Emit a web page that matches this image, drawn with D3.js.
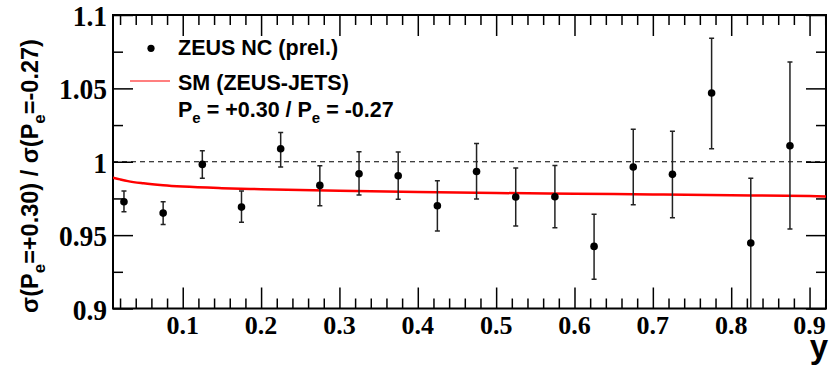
<html>
<head>
    <meta charset="UTF-8">
    <title>ZEUS NC polarised cross-section ratio</title>
    <style>
        body { margin: 0; background: #fff; }
    </style>
</head>
<body>
<script src="https://d3js.org/d3.v7.min.js"></script>

<div id="svg_chart"></div>

<script>
    // Bin centres in y
    var yCentres = [0.025, 0.075, 0.125, 0.175, 0.225, 0.275, 0.325, 0.375, 0.425,
                    0.475, 0.525, 0.575, 0.625, 0.675, 0.725, 0.775, 0.825, 0.875];
    // Measured ratio (ZEUS NC prel.)
    var ratioValues = [0.9727, 0.9650, 0.9982, 0.9691, 1.0089, 0.9839, 0.9918, 0.9905, 0.9700,
                       0.9934, 0.9760, 0.9761, 0.9423, 0.9964, 0.9914, 1.0468, 0.9446, 1.0109];
    // Upper / lower end of the error bars
    var errHigh = [0.9800, 0.9727, 1.0075, 0.9800, 1.0200, 0.9973, 1.0068, 1.0066, 0.9870,
                   1.0125, 0.9957, 0.9975, 0.9643, 1.0221, 1.0207, 1.0841, 0.9887, 1.0680];
    var errLow  = [0.9660, 0.9573, 0.9887, 0.9587, 0.9964, 0.9700, 0.9773, 0.9744, 0.9528,
                   0.9746, 0.9562, 0.9550, 0.9200, 0.9707, 0.9618, 1.0089, 0.8950, 0.9541];

    // SM prediction (ZEUS-JETS)
    var smY     = [0.011, 0.02, 0.03, 0.05, 0.075, 0.1, 0.15, 0.2, 0.3, 0.4, 0.5, 0.6, 0.7, 0.8, 0.9, 0.921];
    var smRatio = [0.9892, 0.9880, 0.9868, 0.9853, 0.9840, 0.9831, 0.9820, 0.9813, 0.9802,
                   0.9794, 0.9787, 0.9782, 0.9777, 0.9772, 0.9766, 0.9764];

    // Tick labels
    var xTickLabels = [0.1, 0.2, 0.3, 0.4, 0.5, 0.6, 0.7, 0.8, 0.9];
    var yTickLabels = [0.9, 0.95, 1, 1.05, 1.1];

    var data = yCentres.map(function(d, i) {
        return {x: d, v: ratioValues[i], hi: errHigh[i], lo: errLow[i]};
    });

    // Frame of the plot
    let margin = {top: 15, right: 3, bottom: 57.5, left: 113},
        width = 829 - margin.left - margin.right,
        height = 366 - margin.top - margin.bottom;

    const svgRoot = d3.select("#svg_chart")
        .append("svg")
        .attr("width", 829)
        .attr("height", 366);

    const svg = svgRoot.append("g")
        .attr("transform", "translate(" + margin.left + "," + margin.top + ")");

    let xScale = d3.scaleLinear().domain([0.011, 0.921]).range([0, width]);
    let yScale = d3.scaleLinear().domain([0.9, 1.1]).range([height, 0]);

    var majorX = xTickLabels;
    var minorX = d3.range(1, 47).map(d => d * 0.02).filter(d => Math.abs(d * 10 - Math.round(d * 10)) > 1e-6);
    var majorY = yTickLabels;
    var minorY = [0.925, 0.975, 1.025, 1.075];

    // clip for the data marks
    svg.append("clipPath").attr("id", "clip")
        .append("rect").attr("width", width).attr("height", height);

    // Ticks on all four sides (ROOT style)
    function drawTicks(g, axisFn, scale, values, size) {
        g.call(axisFn(scale).tickValues(values).tickSize(size).tickFormat(""))
         .call(g => g.select(".domain").remove())
         .selectAll("line").attr("stroke", "#000").attr("stroke-width", 1.5);
    }
    drawTicks(svg.append("g").attr("transform", "translate(0," + height + ")"), d3.axisTop, xScale, majorX, 21);
    drawTicks(svg.append("g").attr("transform", "translate(0," + height + ")"), d3.axisTop, xScale, minorX, 10);
    drawTicks(svg.append("g"), d3.axisBottom, xScale, majorX, 21);
    drawTicks(svg.append("g"), d3.axisBottom, xScale, minorX, 10);
    drawTicks(svg.append("g"), d3.axisRight, yScale, majorY, 20);
    drawTicks(svg.append("g"), d3.axisRight, yScale, minorY, 10);
    drawTicks(svg.append("g").attr("transform", "translate(" + width + ",0)"), d3.axisLeft, yScale, majorY, 20);
    drawTicks(svg.append("g").attr("transform", "translate(" + width + ",0)"), d3.axisLeft, yScale, minorY, 10);

    // Frame
    svg.append("rect")
        .attr("width", width).attr("height", height)
        .attr("fill", "none").attr("stroke", "#000").attr("stroke-width", 2);

    // Tick labels (Times bold)
    svg.selectAll(".xlab").data(xTickLabels).enter()
        .append("text")
        .attr("class", "xlab")
        .attr("x", d => xScale(d))
        .attr("y", height + 25)
        .attr("text-anchor", "middle")
        .style("font-family", "'Liberation Serif', 'Times New Roman', serif")
        .style("font-weight", "bold")
        .style("font-size", "26px")
        .text(d => d);

    svg.selectAll(".ylab").data(yTickLabels).enter()
        .append("text")
        .attr("class", "ylab")
        .attr("transform", d => "translate(-6," + (yScale(d) + 11) + ") scale(1,1.08)")
        .attr("text-anchor", "end")
        .style("font-family", "'Liberation Serif', 'Times New Roman', serif")
        .style("font-weight", "bold")
        .style("font-size", "27.5px")
        .text(d => d);

    const plot = svg.append("g").attr("clip-path", "url(#clip)");

    // Dashed line at 1
    plot.append("line")
        .attr("x1", 0).attr("x2", width)
        .attr("y1", yScale(1)).attr("y2", yScale(1))
        .attr("stroke", "#000").attr("stroke-width", 1.2)
        .attr("stroke-dasharray", "5,4");

    // SM curve
    var line = d3.line()
        .x((d, i) => xScale(smY[i]))
        .y(d => yScale(d))
        .curve(d3.curveMonotoneX);
    plot.append("path")
        .datum(smRatio)
        .attr("d", line)
        .attr("fill", "none")
        .attr("stroke", "#ff0000")
        .attr("stroke-width", 2.5);

    // Error bars
    var bars = plot.selectAll(".err").data(data).enter().append("g").attr("class", "err");
    bars.append("line")
        .attr("x1", d => xScale(d.x)).attr("x2", d => xScale(d.x))
        .attr("y1", d => yScale(d.hi)).attr("y2", d => yScale(d.lo))
        .attr("stroke", "#222").attr("stroke-width", 1.5);
    bars.append("line")
        .attr("x1", d => xScale(d.x) - 2.5).attr("x2", d => xScale(d.x) + 2.5)
        .attr("y1", d => yScale(d.hi)).attr("y2", d => yScale(d.hi))
        .attr("stroke", "#222").attr("stroke-width", 1.5);
    bars.append("line")
        .attr("x1", d => xScale(d.x) - 2.5).attr("x2", d => xScale(d.x) + 2.5)
        .attr("y1", d => yScale(d.lo)).attr("y2", d => yScale(d.lo))
        .attr("stroke", "#222").attr("stroke-width", 1.5);

    // Data points
    plot.selectAll("circle").data(data).enter()
        .append("circle")
        .attr("cx", d => xScale(d.x))
        .attr("cy", d => yScale(d.v))
        .attr("r", 3.8)
        .attr("fill", "#000");

    // Legend
    var legendFont = "'Liberation Sans', Arial, Helvetica, sans-serif";
    svgRoot.append("circle").attr("cx", 151).attr("cy", 48.3).attr("r", 3.6).attr("fill", "#000");
    svgRoot.append("text").attr("x", 178).attr("y", 55)
        .style("font-family", legendFont).style("font-weight", "bold").style("font-size", "21.5px")
        .text("ZEUS NC (prel.)");
    svgRoot.append("line").attr("x1", 130).attr("x2", 170).attr("y1", 81).attr("y2", 81)
        .attr("stroke", "#ff0000").attr("stroke-width", 1.2);
    svgRoot.append("text").attr("x", 178).attr("y", 89.5)
        .style("font-family", legendFont).style("font-weight", "bold").style("font-size", "21.5px")
        .text("SM (ZEUS-JETS)");
    var pe = svgRoot.append("text").attr("x", 178).attr("y", 116.5)
        .style("font-family", legendFont).style("font-weight", "bold").style("font-size", "21.5px");
    pe.append("tspan").text("P");
    pe.append("tspan").attr("dy", 6).style("font-size", "15px").text("e");
    pe.append("tspan").attr("dy", -6).text(" = +0.30 / P");
    pe.append("tspan").attr("dy", 6).style("font-size", "15px").text("e");
    pe.append("tspan").attr("dy", -6).text(" = -0.27");

    // Axis titles
    svgRoot.append("text")
        .attr("x", 828).attr("y", 358)
        .attr("text-anchor", "end")
        .style("font-family", legendFont).style("font-weight", "bold").style("font-size", "33px")
        .text("y");

    var yt = svgRoot.append("text")
        .attr("transform", "translate(38,176) rotate(-90)")
        .attr("text-anchor", "middle")
        .style("font-family", legendFont).style("font-weight", "bold").style("font-size", "23.5px");
    yt.append("tspan").text("\u03c3(P");
    yt.append("tspan").attr("dy", 7).style("font-size", "17px").text("e");
    yt.append("tspan").attr("dy", -7).text("=+0.30) / \u03c3(P");
    yt.append("tspan").attr("dy", 7).style("font-size", "17px").text("e");
    yt.append("tspan").attr("dy", -7).text("=-0.27)");
</script>
</body>
</html>
